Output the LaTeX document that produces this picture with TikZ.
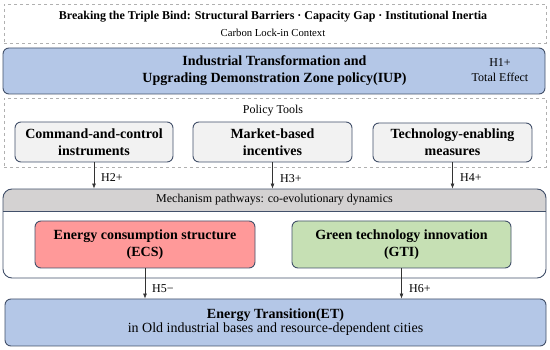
\documentclass[tikz,border=0pt]{standalone}
\usepackage{fontspec}
\setmainfont{Liberation Serif}
\usetikzlibrary{arrows.meta}
\definecolor{bluefill}{HTML}{B4C7E7}
\definecolor{edgecol}{HTML}{42506A}
\definecolor{dashcol}{HTML}{B0B0B0}
\definecolor{toolfill}{HTML}{F2F2F2}
\definecolor{bandfill}{HTML}{D4D2D2}
\definecolor{ecsfill}{HTML}{FF9999}
\definecolor{gtifill}{HTML}{C6E0B4}
\definecolor{arrcol}{HTML}{333333}
\tikzset{
  rbox/.style={draw=edgecol, line width=0.9pt, rounded corners=6pt, inner sep=0pt, align=center},
  dbox/.style={draw=dashcol, dashed, line width=0.7pt, inner sep=0pt},
  maintext/.style={font=\fontsize{14}{17}\selectfont\bfseries, align=center},
  smalltext/.style={font=\fontsize{12}{15}\selectfont, align=center},
  arr/.style={draw=arrcol, line width=0.6pt, -{Latex[length=5pt,width=4pt]}},
  lbl/.style={font=\fontsize{12}{14}\selectfont, anchor=west, inner sep=0pt}
}
\begin{document}
\begin{tikzpicture}[x=1pt,y=-1pt]
\useasboundingbox (0,0) rectangle (550,350);
% top dashed context box
\node[dbox, minimum width=542pt, minimum height=39pt] (ctx) at (275,23.5) {};
\node[font=\fontsize{12}{14}\selectfont\bfseries] (ctxhead) at (273,16.5) {Breaking the Triple Bind: Structural Barriers · Capacity Gap · Institutional Inertia};
\node[font=\fontsize{10.7}{13}\selectfont] (ctxsub) at (273,33) {Carbon Lock-in Context};
% IUP
\node[rbox, fill=bluefill, minimum width=542pt, minimum height=46pt] (iup) at (274,71) {};
\node[maintext] (iuptext) at (274.5,71) {Industrial Transformation and\\Upgrading Demonstration Zone policy(IUP)};
\node[smalltext] (h1) at (500,70.5) {H1+\\Total Effect};
% policy tools dashed box
\node[dbox, minimum width=542pt, minimum height=69pt] (tools) at (275,132.5) {};
\node[font=\fontsize{12}{14}\selectfont] (toolslabel) at (273,111) {Policy Tools};
\node[rbox, fill=toolfill, maintext, minimum width=158pt, minimum height=40pt] (cmd) at (94,142) {Command-and-control\\instruments};
\node[rbox, fill=toolfill, maintext, minimum width=159pt, minimum height=40pt] (mkt) at (272.5,142) {Market-based\\incentives};
\node[rbox, fill=toolfill, maintext, minimum width=159pt, minimum height=39pt] (tech) at (452.5,142.5) {Technology-enabling\\measures};
% mechanism box
\begin{scope}
\clip[rounded corners=9pt] (3,189) rectangle (546,278);
\fill[bandfill] (3,189) rectangle (546,211);
\end{scope}
\node[draw=edgecol, line width=0.9pt, rounded corners=9pt, inner sep=0pt, minimum width=543pt, minimum height=89pt] (mech) at (274.5,233.5) {};
\coordinate (bandL) at (3,211);
\coordinate (bandR) at (546,211);
\draw[edgecol, line width=0.9pt] (bandL) -- (bandR);
\node[font=\fontsize{12}{14}\selectfont] (mechlabel) at (274.5,200) {Mechanism pathways: co-evolutionary dynamics};
\node[rbox, fill=ecsfill, maintext, minimum width=220pt, minimum height=47pt] (ecs) at (145,244.5) {Energy consumption structure\\(ECS)};
\node[rbox, fill=gtifill, maintext, minimum width=219pt, minimum height=47pt] (gti) at (401.5,244.5) {Green technology innovation\\(GTI)};
% ET
\node[rbox, fill=bluefill, minimum width=541pt, minimum height=47pt, align=center] (et) at (275.5,322.5) {{\fontsize{14}{17}\selectfont\bfseries Energy Transition(ET)}\\{\fontsize{14}{17}\selectfont in Old industrial bases and resource-dependent cities}};
% arrows
\draw[arr] (cmd.south) -- (cmd.south |- mech.north);
\draw[arr] (mkt.south) -- (mkt.south |- mech.north);
\draw[arr] (tech.south) -- (tech.south |- mech.north);
\draw[arr] (ecs.south) -- (ecs.south |- et.north);
\draw[arr] (gti.south) -- (gti.south |- et.north);
\node[lbl] (h2) at (101,178) {H2+};
\node[lbl] (h3) at (280,178.5) {H3+};
\node[lbl] (h4) at (460,178) {H4+};
\node[lbl] (h5) at (152,288.5) {H5\textminus};
\node[lbl] (h6) at (409,288.5) {H6+};
\end{tikzpicture}
\end{document}
